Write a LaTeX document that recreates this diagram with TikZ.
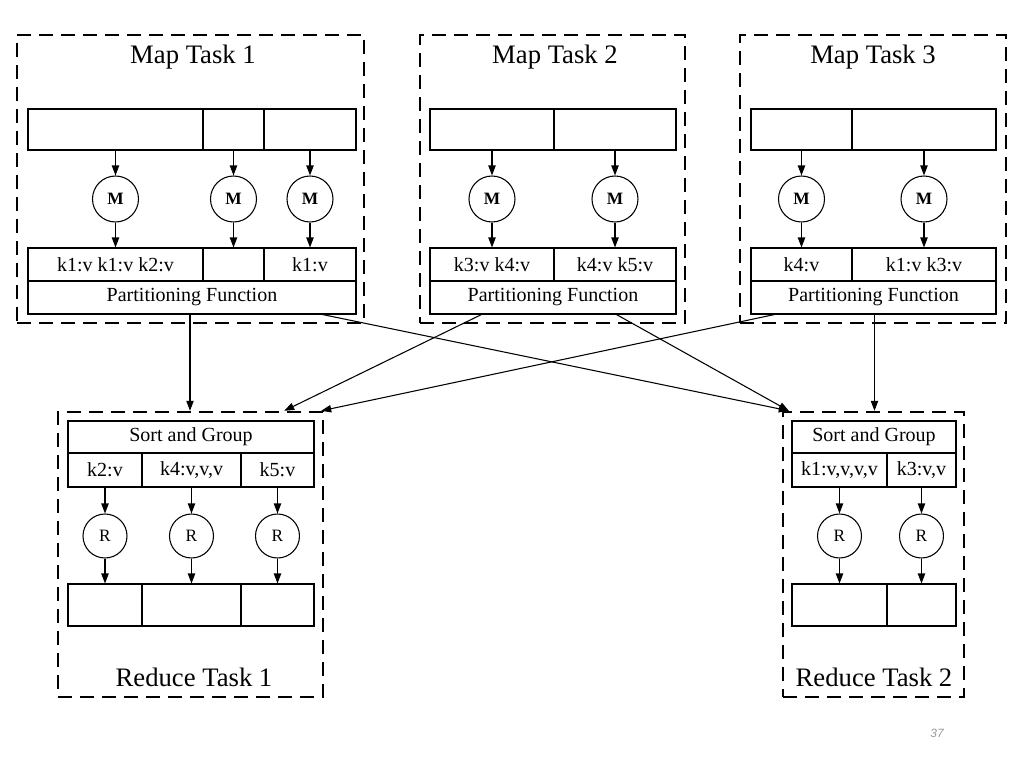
\documentclass[tikz,border=0pt]{standalone}
\usepackage{fontspec}
\setmainfont{Liberation Serif}
\newfontfamily\pnfont{Liberation Sans}
\usetikzlibrary{arrows.meta,calc}
\newcommand{\pxu}{*0.75pt}
\tikzset{
  cell/.style={draw, line width=0.8pt, inner sep=0pt, font=\fontsize{15}{18}\selectfont},
  taskbox/.style={draw, line width=1.8pt, dash pattern=on 10.5pt off 6pt, inner sep=0pt},
  title/.style={font=\fontsize{20}{24}\selectfont, inner sep=0pt},
  mapper/.style={draw, circle, line width=0.8pt, minimum size=46\pxu, inner sep=0pt, font=\fontsize{13}{14}\selectfont\bfseries},
  reducer/.style={draw, circle, line width=0.8pt, minimum size=44\pxu, inner sep=0pt, font=\fontsize{13}{14}\selectfont},
  arr/.style={line width=0.8pt, -{Triangle[length=7.5pt,width=5.5pt]}},
  pagenum/.style={font=\pnfont\itshape\fontsize{9}{10}\selectfont, text=gray!80, inner sep=0pt}
}
\begin{document}
\begin{tikzpicture}[x=0.75pt,y=-0.75pt]
\useasboundingbox (0,0) rectangle (1024,768);

% ---------- dashed task boxes ----------
\node[taskbox, minimum width=347\pxu, minimum height=288\pxu] (MB1) at (190.5,179) {};
\node[taskbox, minimum width=265\pxu, minimum height=288\pxu] (MB2) at (552.5,179) {};
\node[taskbox, minimum width=266\pxu, minimum height=288\pxu] (MB3) at (873,179) {};
\node[taskbox, minimum width=265\pxu, minimum height=285\pxu] (RB1) at (190.5,554.5) {};
\node[taskbox, minimum width=181\pxu, minimum height=285\pxu] (RB2) at (873.5,554.5) {};

\node[title] (T1) at (193,57) {Map Task 1};
\node[title] (T2) at (555,57) {Map Task 2};
\node[title] (T3) at (873,57) {Map Task 3};
\node[title] (T4) at (194,677) {Reduce Task 1};
\node[title] (T5) at (874,677) {Reduce Task 2};

% ---------- Map Task 1 ----------
\node[cell, minimum width=175\pxu, minimum height=41\pxu] (I11) at (115.5,129.5) {};
\node[cell, minimum width=61\pxu, minimum height=41\pxu] (I12) at (233.5,129.5) {};
\node[cell, minimum width=92\pxu, minimum height=41\pxu] (I13) at (310,129.5) {};
\node[mapper] (M11) at (115.5,199) {M};
\node[mapper] (M12) at (233.5,199) {M};
\node[mapper] (M13) at (310,199) {M};
\node[cell, minimum width=175\pxu, minimum height=33\pxu] (O11) at (115.5,264.5) {k1:v k1:v k2:v};
\node[cell, minimum width=61\pxu, minimum height=33\pxu] (O12) at (233.5,264.5) {};
\node[cell, minimum width=92\pxu, minimum height=33\pxu] (O13) at (310,264.5) {k1:v};
\node[cell, minimum width=328\pxu, minimum height=33\pxu] (P1) at (192,297.5) {Partitioning Function};
\foreach \i in {1,2,3}{
  \draw[arr] (I1\i.south) -- (M1\i);
  \draw[arr] (M1\i) -- (O1\i.north);
}

% ---------- Map Task 2 ----------
\node[cell, minimum width=124\pxu, minimum height=41\pxu] (I21) at (492,129.5) {};
\node[cell, minimum width=122\pxu, minimum height=41\pxu] (I22) at (615,129.5) {};
\node[mapper] (M21) at (492,199) {M};
\node[mapper] (M22) at (615,199) {M};
\node[cell, minimum width=124\pxu, minimum height=33\pxu] (O21) at (492,264.5) {k3:v k4:v};
\node[cell, minimum width=122\pxu, minimum height=33\pxu] (O22) at (615,264.5) {k4:v k5:v};
\node[cell, minimum width=246\pxu, minimum height=33\pxu] (P2) at (553,297.5) {Partitioning Function};
\foreach \i in {1,2}{
  \draw[arr] (I2\i.south) -- (M2\i);
  \draw[arr] (M2\i) -- (O2\i.north);
}

% ---------- Map Task 3 ----------
\node[cell, minimum width=101\pxu, minimum height=41\pxu] (I31) at (801.5,129.5) {};
\node[cell, minimum width=144\pxu, minimum height=41\pxu] (I32) at (924,129.5) {};
\node[mapper] (M31) at (801.5,199) {M};
\node[mapper] (M32) at (924,199) {M};
\node[cell, minimum width=101\pxu, minimum height=33\pxu] (O31) at (801.5,264.5) {k4:v};
\node[cell, minimum width=144\pxu, minimum height=33\pxu] (O32) at (924,264.5) {k1:v k3:v};
\node[cell, minimum width=245\pxu, minimum height=33\pxu] (P3) at (873.5,297.5) {Partitioning Function};
\foreach \i in {1,2}{
  \draw[arr] (I3\i.south) -- (M3\i);
  \draw[arr] (M3\i) -- (O3\i.north);
}

% ---------- Reduce Task 1 ----------
\node[cell, minimum width=246\pxu, minimum height=32\pxu] (S1) at (191,437) {Sort and Group};
\node[cell, minimum width=74\pxu, minimum height=34\pxu] (K11) at (105,470) {k2:v};
\node[cell, minimum width=99\pxu, minimum height=34\pxu] (K12) at (191.5,470) {k4:v,v,v};
\node[cell, minimum width=73\pxu, minimum height=34\pxu] (K13) at (277.5,470) {k5:v};
\node[reducer] (R11) at (105,536) {R};
\node[reducer] (R12) at (191.5,536) {R};
\node[reducer] (R13) at (277.5,536) {R};
\node[cell, minimum width=74\pxu, minimum height=42\pxu] (F11) at (105,605) {};
\node[cell, minimum width=99\pxu, minimum height=42\pxu] (F12) at (191.5,605) {};
\node[cell, minimum width=73\pxu, minimum height=42\pxu] (F13) at (277.5,605) {};
\foreach \i in {1,2,3}{
  \draw[arr] (K1\i.south) -- (R1\i);
  \draw[arr] (R1\i) -- (F1\i.north);
}

% ---------- Reduce Task 2 ----------
\node[cell, minimum width=164\pxu, minimum height=32\pxu] (S2) at (874,437) {Sort and Group};
\node[cell, minimum width=95\pxu, minimum height=34\pxu] (K21) at (839.5,470) {k1:v,v,v,v};
\node[cell, minimum width=69\pxu, minimum height=34\pxu] (K22) at (921.5,470) {k3:v,v};
\node[reducer] (R21) at (839.5,536) {R};
\node[reducer] (R22) at (921.5,536) {R};
\node[cell, minimum width=95\pxu, minimum height=42\pxu] (F21) at (839.5,605) {};
\node[cell, minimum width=69\pxu, minimum height=42\pxu] (F22) at (921.5,605) {};
\foreach \i in {1,2}{
  \draw[arr] (K2\i.south) -- (R2\i);
  \draw[arr] (R2\i) -- (F2\i.north);
}

% ---------- shuffle connectors ----------
\coordinate (P1o) at ($(P1.south)+(-2,0)$);
\coordinate (P3o) at ($(P3.south)+(1,0)$);
\coordinate (P1x) at ($(P1.south east)+(-34,0)$);
\coordinate (P2a) at ($(P2.south west)+(52,0)$);
\coordinate (P2b) at ($(P2.south west)+(187,0)$);
\coordinate (P3x) at ($(P3.south west)+(24,0)$);
\coordinate (R1a) at ($(RB1.north east)+(-40,0)$);
\coordinate (R1b) at ($(RB1.north east)+(-3,0)$);
\coordinate (R2a) at ($(RB2.north west)+(7,0)$);
\draw[arr] (P1o) -- (P1o |- RB1.north);
\draw[arr] (P3o) -- (P3o |- RB2.north);
\draw[arr] (P1x) -- (R2a);
\draw[arr] (P2a) -- (R1a);
\draw[arr] (P2b) -- (R2a);
\draw[arr] (P3x) -- (R1b);

\node[pagenum] (PG) at (937,733) {37};
\end{tikzpicture}
\end{document}
